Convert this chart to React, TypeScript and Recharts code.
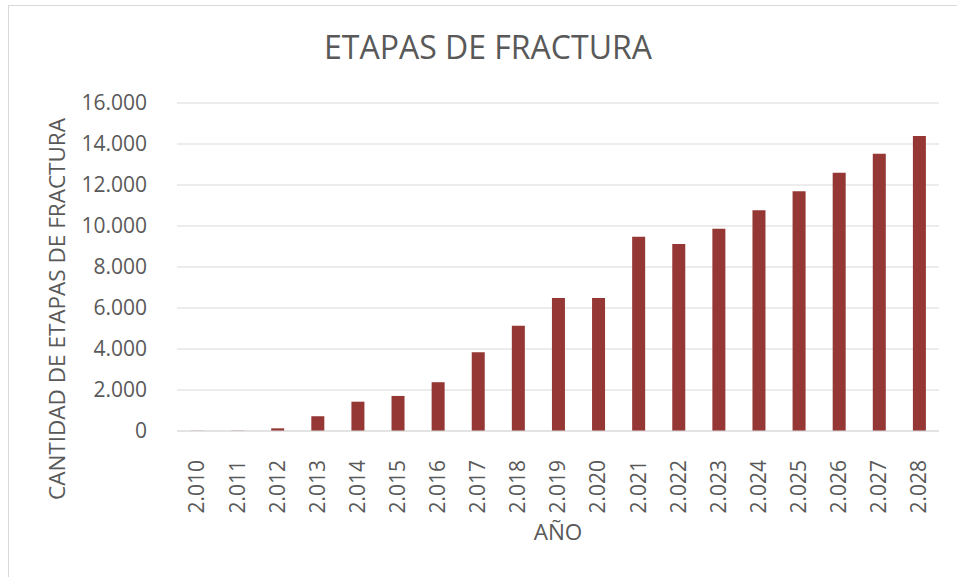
import React from 'react';
import { BarChart, Bar, XAxis, YAxis, CartesianGrid, Customized } from 'recharts';

const years = ['2.010', '2.011', '2.012', '2.013', '2.014', '2.015', '2.016', '2.017', '2.018', '2.019', '2.020', '2.021', '2.022', '2.023', '2.024', '2.025', '2.026', '2.027', '2.028'];
const stages = [10, 15, 130, 720, 1430, 1710, 2380, 3840, 5140, 6490, 6490, 9480, 9120, 9870, 10770, 11690, 12600, 13530, 14390];
const yTicks = [0, 2000, 4000, 6000, 8000, 10000, 12000, 14000, 16000];

const title = 'ETAPAS DE FRACTURA';
const xTitle = 'AÑO';
const yTitle = 'CANTIDAD DE ETAPAS DE FRACTURA';

const data = years.map((y, i) => ({ year: y, value: stages[i] }));

const FONT = '"Open Sans", sans-serif';
const TEXT = '#595959';

const fmt = (v: number) => v.toLocaleString('de-DE');

const XTick = (props: any) => {
  const { x, y, payload } = props;
  return (
    <text
      x={x}
      y={y + 21}
      transform={`rotate(-90, ${x}, ${y + 21})`}
      textAnchor="end"
      dy="0.35em"
      fill={TEXT}
      fontSize={21}
      fontFamily={FONT}
    >
      {payload.value}
    </text>
  );
};

const Titles = () => (
  <g fontFamily={FONT} fill={TEXT}>
    <text x={479} y={53} textAnchor="middle" fontSize={32}>{title}</text>
    <text x={549} y={534} textAnchor="middle" fontSize={22.5}>{xTitle}</text>
    <text x={48} y={303} textAnchor="middle" dy="0.35em" fontSize={22.5} transform="rotate(-90, 48, 303)">{yTitle}</text>
  </g>
);

export default function App() {
  return (
    <div
      style={{
        position: 'absolute',
        left: 8,
        top: 5,
        width: 949,
        height: 572,
        borderLeft: '1px solid #d9d9d9',
        borderTop: '1px solid #d9d9d9',
        boxSizing: 'border-box',
        background: '#fff',
      }}
    >
      <BarChart
        width={948}
        height={571}
        data={data}
        margin={{ top: 97, right: 18, bottom: 46, left: 88 }}
      >
        <CartesianGrid vertical={false} stroke="#d9d9d9" strokeWidth={1.2} />
        <XAxis
          dataKey="year"
          interval={0}
          height={100}
          tickLine={false}
          axisLine={{ stroke: '#d9d9d9', strokeWidth: 1.2 }}
          tick={<XTick />}
        />
        <YAxis
          width={80}
          domain={[0, 16000]}
          ticks={yTicks}
          tickFormatter={fmt}
          axisLine={false}
          tickLine={false}
          tickSize={0}
          tickMargin={30}
          tick={{ fill: TEXT, fontSize: 21, fontFamily: FONT }}
          interval={0}
        />
        <Bar dataKey="value" fill="#953735" barSize={13} isAnimationActive={false} />
        <Customized component={Titles} />
      </BarChart>
    </div>
  );
}
